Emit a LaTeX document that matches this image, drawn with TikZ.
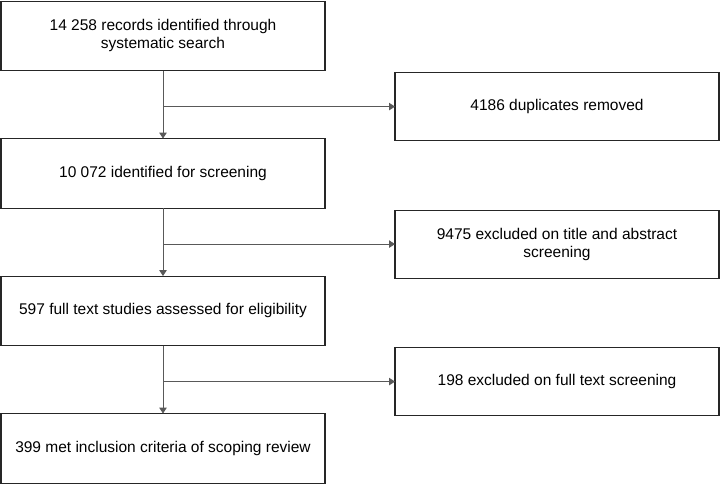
\documentclass[tikz,border=0pt]{standalone}
\usepackage{fontspec}
\setmainfont{Liberation Sans}
\usetikzlibrary{arrows.meta, chains, positioning, calc}

\begin{document}
\begin{tikzpicture}[ node distance = 68pt and 70pt,
start chain = A going below,
stage/.style = {rectangle, draw=black!85, line width=1.1pt, fill=white,
minimum width=324pt, minimum height=69.5pt, inner sep=2pt, outer sep=0pt,
align=center, font=\fontsize{15.5}{18}\selectfont},
box/.style = {stage, on chain},
link/.style = {% connector
draw=black!65, line width=0.9pt, -{Triangle[length=6pt,width=7.5pt]}}]
\useasboundingbox (0,0) rectangle (720pt,-485pt);
% main column
\node[box] at (163pt,-35.8pt) {14 258 records identified through\\systematic search}; % A-1
\node[box] {10 072 identified for screening};
\node[box] {597 full text studies assessed for eligibility};
\node[box] {399 met inclusion criteria of scoping review};
% branch points
\coordinate (b1) at ($(A-1.south)!.53!(A-2.north)$);
\coordinate (b2) at ($(A-2.south)!.53!(A-3.north)$);
\coordinate (b3) at ($(A-3.south)!.53!(A-4.north)$);
% excluded records
\node[stage, minimum height=68pt, right=232pt of b1] (B-1) {4186 duplicates removed};
\node[stage, minimum height=68pt, right=232pt of b2] (B-2) {9475 excluded on title and abstract\\screening};
\node[stage, minimum height=68pt, right=232pt of b3] (B-3) {198 excluded on full text screening};
% arrows
\foreach \i/\j in {1/2,2/3,3/4}
  \draw[link] (A-\i) -- (A-\j);
\foreach \i in {1,2,3}
  \draw[link] (b\i) -- (B-\i);
\end{tikzpicture}
\end{document}
